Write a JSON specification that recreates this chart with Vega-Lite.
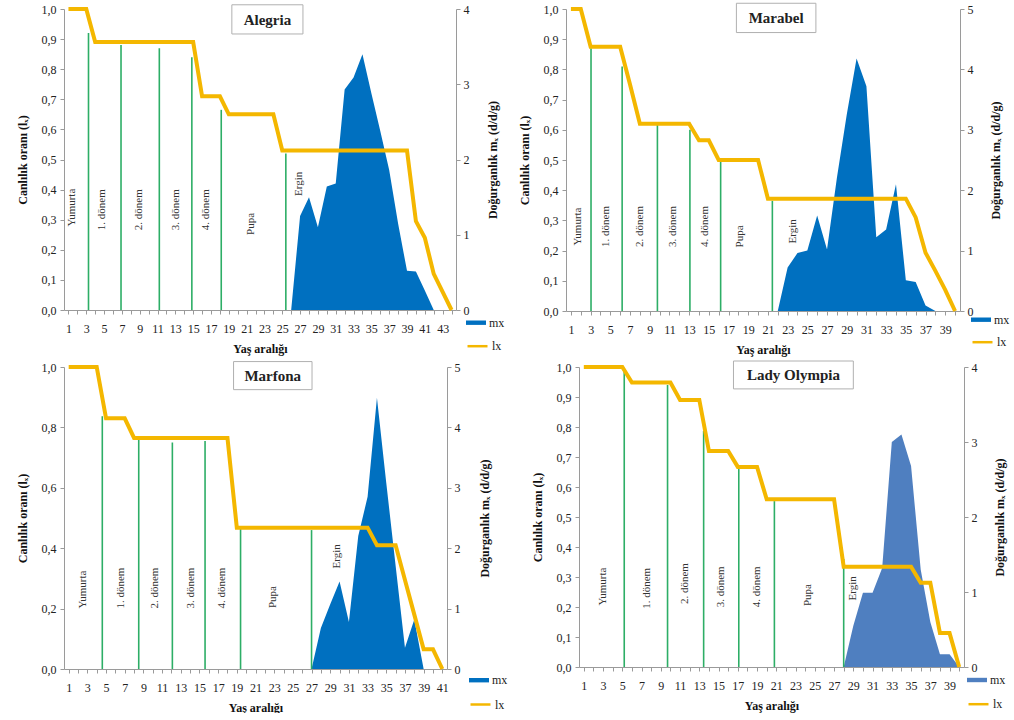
{
  "$schema": "https://vega.github.io/schema/vega-lite/v6.json",
  "padding": {"left": 16, "top": 1, "right": 0, "bottom": 0},
  "config": {
    "font": "Liberation Serif",
    "view": {"stroke": null},
    "axis": {"labelFont": "Liberation Serif", "titleFont": "Liberation Serif", "labelFontSize": 12, "titleFontSize": 12, "titleFontWeight": "bold", "grid": false, "domainColor": "#9a9a9a", "tickColor": "#9a9a9a", "labelColor": "#222222", "titleColor": "#111111", "labelOverlap": false},
    "legend": {"labelFont": "Liberation Serif", "labelFontSize": 12, "labelColor": "#222222"}
  },
  "datasets": {
    "titles": [{"panel": "Alegria"}, {"panel": "Marabel"}, {"panel": "Marfona"}, {"panel": "Lady Olympia"}],
    "alegria_lx": [
      {"x":1,"lx":1},{"x":2,"lx":1},{"x":3,"lx":1},{"x":4,"lx":0.89},{"x":5,"lx":0.89},{"x":6,"lx":0.89},{"x":7,"lx":0.89},{"x":8,"lx":0.89},{"x":9,"lx":0.89},{"x":10,"lx":0.89},{"x":11,"lx":0.89},{"x":12,"lx":0.89},{"x":13,"lx":0.89},{"x":14,"lx":0.89},{"x":15,"lx":0.89},{"x":16,"lx":0.71},{"x":17,"lx":0.71},{"x":18,"lx":0.71},{"x":19,"lx":0.65},{"x":20,"lx":0.65},{"x":21,"lx":0.65},{"x":22,"lx":0.65},{"x":23,"lx":0.65},{"x":24,"lx":0.65},{"x":25,"lx":0.53},{"x":26,"lx":0.53},{"x":27,"lx":0.53},{"x":28,"lx":0.53},{"x":29,"lx":0.53},{"x":30,"lx":0.53},{"x":31,"lx":0.53},{"x":32,"lx":0.53},{"x":33,"lx":0.53},{"x":34,"lx":0.53},{"x":35,"lx":0.53},{"x":36,"lx":0.53},{"x":37,"lx":0.53},{"x":38,"lx":0.53},{"x":39,"lx":0.53},{"x":40,"lx":0.295},{"x":41,"lx":0.24},{"x":42,"lx":0.12},{"x":43,"lx":0.06},{"x":44,"lx":0}
    ],
    "alegria_mx": [
      {"x":26,"mx":0},{"x":27,"mx":1.25},{"x":28,"mx":1.5},{"x":29,"mx":1.1},{"x":30,"mx":1.64},{"x":31,"mx":1.68},{"x":32,"mx":2.93},{"x":33,"mx":3.09},{"x":34,"mx":3.4},{"x":35,"mx":2.88},{"x":36,"mx":2.38},{"x":37,"mx":1.86},{"x":38,"mx":1.15},{"x":39,"mx":0.52},{"x":40,"mx":0.51},{"x":41,"mx":0.26},{"x":42,"mx":0}
    ],
    "alegria_rules": [
      {"x":3.25,"top":0.92},{"x":6.9,"top":0.88},{"x":11.2,"top":0.87},{"x":14.85,"top":0.84},{"x":18.15,"top":0.665},{"x":25.4,"top":0.52}
    ],
    "alegria_stages": [
      {"label":"Yumurta","x":1.45,"y":0.34},{"label":"1. dönem","x":4.82,"y":0.333},{"label":"2. dönem","x":8.93,"y":0.333},{"label":"3. dönem","x":13.05,"y":0.333},{"label":"4. dönem","x":16.4,"y":0.333},{"label":"Pupa","x":21.5,"y":0.286},{"label":"Ergin","x":26.9,"y":0.419}
    ],
    "marabel_lx": [
      {"x":1,"lx":1},{"x":2,"lx":1},{"x":3,"lx":0.875},{"x":4,"lx":0.875},{"x":5,"lx":0.875},{"x":6,"lx":0.875},{"x":7,"lx":0.75},{"x":8,"lx":0.62},{"x":9,"lx":0.62},{"x":10,"lx":0.62},{"x":11,"lx":0.62},{"x":12,"lx":0.62},{"x":13,"lx":0.62},{"x":14,"lx":0.565},{"x":15,"lx":0.565},{"x":16,"lx":0.5},{"x":17,"lx":0.5},{"x":18,"lx":0.5},{"x":19,"lx":0.5},{"x":20,"lx":0.5},{"x":21,"lx":0.372},{"x":22,"lx":0.372},{"x":23,"lx":0.372},{"x":24,"lx":0.372},{"x":25,"lx":0.372},{"x":26,"lx":0.372},{"x":27,"lx":0.372},{"x":28,"lx":0.372},{"x":29,"lx":0.372},{"x":30,"lx":0.372},{"x":31,"lx":0.372},{"x":32,"lx":0.372},{"x":33,"lx":0.372},{"x":34,"lx":0.372},{"x":35,"lx":0.372},{"x":36,"lx":0.31},{"x":37,"lx":0.193},{"x":38,"lx":0.133},{"x":39,"lx":0.07},{"x":40,"lx":0}
    ],
    "marabel_mx": [
      {"x":22,"mx":0},{"x":23,"mx":0.72},{"x":24,"mx":0.96},{"x":25,"mx":1.0},{"x":26,"mx":1.58},{"x":27,"mx":1.02},{"x":28,"mx":2.2},{"x":29,"mx":3.25},{"x":30,"mx":4.18},{"x":31,"mx":3.72},{"x":32,"mx":1.22},{"x":33,"mx":1.35},{"x":34,"mx":2.1},{"x":35,"mx":0.51},{"x":36,"mx":0.48},{"x":37,"mx":0.09},{"x":38,"mx":0}
    ],
    "marabel_rules": [
      {"x":3.04,"top":0.87},{"x":6.2,"top":0.81},{"x":9.78,"top":0.62},{"x":13.08,"top":0.6},{"x":16.2,"top":0.5},{"x":21.45,"top":0.365}
    ],
    "marabel_stages": [
      {"label":"Yumurta","x":1.68,"y":0.28},{"label":"1. dönem","x":4.57,"y":0.28},{"label":"2. dönem","x":7.98,"y":0.28},{"label":"3. dönem","x":11.4,"y":0.28},{"label":"4. dönem","x":14.6,"y":0.28},{"label":"Pupa","x":18.2,"y":0.247},{"label":"Ergin","x":23.55,"y":0.264}
    ],
    "marfona_lx": [
      {"x":1,"lx":1},{"x":2,"lx":1},{"x":3,"lx":1},{"x":4,"lx":1},{"x":5,"lx":0.83},{"x":6,"lx":0.83},{"x":7,"lx":0.83},{"x":8,"lx":0.765},{"x":9,"lx":0.765},{"x":10,"lx":0.765},{"x":11,"lx":0.765},{"x":12,"lx":0.765},{"x":13,"lx":0.765},{"x":14,"lx":0.765},{"x":15,"lx":0.765},{"x":16,"lx":0.765},{"x":17,"lx":0.765},{"x":18,"lx":0.765},{"x":19,"lx":0.468},{"x":20,"lx":0.468},{"x":21,"lx":0.468},{"x":22,"lx":0.468},{"x":23,"lx":0.468},{"x":24,"lx":0.468},{"x":25,"lx":0.468},{"x":26,"lx":0.468},{"x":27,"lx":0.468},{"x":28,"lx":0.468},{"x":29,"lx":0.468},{"x":30,"lx":0.468},{"x":31,"lx":0.468},{"x":32,"lx":0.468},{"x":33,"lx":0.468},{"x":34,"lx":0.41},{"x":35,"lx":0.41},{"x":36,"lx":0.41},{"x":37,"lx":0.295},{"x":38,"lx":0.18},{"x":39,"lx":0.065},{"x":40,"lx":0.065},{"x":41,"lx":0}
    ],
    "marfona_mx": [
      {"x":27,"mx":0},{"x":28,"mx":0.68},{"x":29,"mx":1.07},{"x":30,"mx":1.45},{"x":31,"mx":0.78},{"x":32,"mx":2.2},{"x":33,"mx":2.85},{"x":34,"mx":4.49},{"x":35,"mx":3.08},{"x":36,"mx":1.71},{"x":37,"mx":0.35},{"x":38,"mx":0.82},{"x":39,"mx":0}
    ],
    "marfona_rules": [
      {"x":4.6,"top":0.837},{"x":8.5,"top":0.76},{"x":12.1,"top":0.75},{"x":15.6,"top":0.755},{"x":19.4,"top":0.467},{"x":27.0,"top":0.46}
    ],
    "marfona_stages": [
      {"label":"Yumurta","x":2.5,"y":0.263},{"label":"1. dönem","x":6.63,"y":0.268},{"label":"2. dönem","x":10.2,"y":0.268},{"label":"3. dönem","x":14.1,"y":0.268},{"label":"4. dönem","x":17.4,"y":0.268},{"label":"Pupa","x":22.85,"y":0.238},{"label":"Ergin","x":29.7,"y":0.373}
    ],
    "olympia_lx": [
      {"x":1,"lx":1},{"x":2,"lx":1},{"x":3,"lx":1},{"x":4,"lx":1},{"x":5,"lx":1},{"x":6,"lx":0.948},{"x":7,"lx":0.948},{"x":8,"lx":0.948},{"x":9,"lx":0.948},{"x":10,"lx":0.948},{"x":11,"lx":0.89},{"x":12,"lx":0.89},{"x":13,"lx":0.89},{"x":14,"lx":0.72},{"x":15,"lx":0.72},{"x":16,"lx":0.72},{"x":17,"lx":0.667},{"x":18,"lx":0.667},{"x":19,"lx":0.667},{"x":20,"lx":0.559},{"x":21,"lx":0.559},{"x":22,"lx":0.559},{"x":23,"lx":0.559},{"x":24,"lx":0.559},{"x":25,"lx":0.559},{"x":26,"lx":0.559},{"x":27,"lx":0.559},{"x":28,"lx":0.334},{"x":29,"lx":0.334},{"x":30,"lx":0.334},{"x":31,"lx":0.334},{"x":32,"lx":0.334},{"x":33,"lx":0.334},{"x":34,"lx":0.334},{"x":35,"lx":0.334},{"x":36,"lx":0.281},{"x":37,"lx":0.281},{"x":38,"lx":0.113},{"x":39,"lx":0.113},{"x":40,"lx":0}
    ],
    "olympia_mx": [
      {"x":28,"mx":0},{"x":29,"mx":0.55},{"x":30,"mx":0.99},{"x":31,"mx":0.99},{"x":32,"mx":1.32},{"x":33,"mx":3.0},{"x":34,"mx":3.1},{"x":35,"mx":2.68},{"x":36,"mx":1.3},{"x":37,"mx":0.6},{"x":38,"mx":0.17},{"x":39,"mx":0.17},{"x":40,"mx":0}
    ],
    "olympia_rules": [
      {"x":5.2,"top":0.99},{"x":9.7,"top":0.94},{"x":13.45,"top":0.787},{"x":17.1,"top":0.66},{"x":20.8,"top":0.553},{"x":28.0,"top":0.36}
    ],
    "olympia_stages": [
      {"label":"Yumurta","x":2.99,"y":0.268},{"label":"1. dönem","x":7.53,"y":0.262},{"label":"2. dönem","x":11.5,"y":0.278},{"label":"3. dönem","x":15.3,"y":0.267},{"label":"4. dönem","x":19.0,"y":0.267},{"label":"Pupa","x":24.3,"y":0.24},{"label":"Ergin","x":29.0,"y":0.262}
    ]
  },
  "resolve": {"scale": {"x": "independent", "y": "independent", "fill": "independent", "stroke": "independent"}, "legend": {"fill": "independent", "stroke": "independent"}},
  "spacing": 4,
  "vconcat": [
    {
      "hconcat": [
        {
          "width": 392, "height": 301,
          "resolve": {"scale": {"y": "independent"}},
          "layer": [
            {
              "data": {"name": "alegria_mx"},
              "mark": {"type": "area"},
              "encoding": {
                "x": {"field": "x", "type": "quantitative", "scale": {"domain": [0.5, 44.5], "nice": false},
                      "axis": {"title": "Yaş aralığı", "values": [1,2,3,4,5,6,7,8,9,10,11,12,13,14,15,16,17,18,19,20,21,22,23,24,25,26,27,28,29,30,31,32,33,34,35,36,37,38,39,40,41,42,43,44], "tickCount": 100, "format": "d", "labelExpr": "datum.value % 2 === 1 ? datum.label : ''", "tickSize": 4, "labelPadding": 9, "titlePadding": 9, "labelOverlap": false, "labelFlush": false}},
                "y": {"field": "mx", "type": "quantitative", "scale": {"domain": [0, 4], "nice": false},
                      "axis": {"orient": "right", "title": "Doğurganlık mₓ (d/d/g)", "values": [0,1,2,3,4], "tickSize": 4, "labelPadding": 3, "titlePadding": 18, "titleAngle": 270, "titleBaseline": "top"}},
                "fill": {"datum": "mx", "type": "nominal", "scale": {"domain": ["mx"], "range": ["#0070C0"]},
                         "legend": {"orient": "none", "legendX": 402, "legendY": 303.7, "title": null, "symbolType": "M-1,-0.22H1V0.22H-1Z", "symbolSize": 400, "symbolStrokeWidth": 0, "symbolOpacity": 1, "padding": 0, "labelOffset": 3}}
              }
            },
            {
              "layer": [
                {
                  "data": {"name": "alegria_rules"},
                  "mark": {"type": "rule", "color": "#2DAE66", "strokeWidth": 1.6},
                  "encoding": {
                    "x": {"field": "x", "type": "quantitative", "scale": {"domain": [0.5, 44.5], "nice": false}},
                    "y": {"field": "top", "type": "quantitative", "scale": {"domain": [0, 1], "nice": false}},
                    "y2": {"datum": 0}
                  }
                },
                {
                  "data": {"name": "alegria_lx"},
                  "mark": {"type": "line", "strokeWidth": 4},
                  "encoding": {
                    "x": {"field": "x", "type": "quantitative", "scale": {"domain": [0.5, 44.5], "nice": false}},
                    "y": {"field": "lx", "type": "quantitative", "scale": {"domain": [0, 1], "nice": false},
                          "axis": {"orient": "left", "title": "Canlılık oranı (lₓ)", "values": [0,0.1,0.2,0.3,0.4,0.5,0.6,0.7,0.8,0.9,1], "tickCount": 100, "labelExpr": "replace(format(datum.value, '.1f'), '.', ',')", "tickSize": 4, "labelPadding": 4, "titlePadding": 12, "labelOverlap": false}},
                    "stroke": {"datum": "lx", "type": "nominal", "scale": {"domain": ["lx"], "range": ["#F4B700"]},
                               "legend": {"orient": "none", "legendX": 402, "legendY": 325.7, "title": null, "symbolType": "stroke", "symbolSize": 400, "symbolStrokeWidth": 2.5, "padding": 0, "labelOffset": 3}}
                  }
                },
                {
                  "data": {"name": "alegria_stages"},
                  "mark": {"type": "text", "angle": 270, "align": "center", "baseline": "middle", "fontSize": 11, "color": "#333333"},
                  "encoding": {
                    "x": {"field": "x", "type": "quantitative", "scale": {"domain": [0.5, 44.5], "nice": false}},
                    "y": {"field": "y", "type": "quantitative", "scale": {"domain": [0, 1], "nice": false}},
                    "text": {"field": "label"}
                  }
                },
                {
                  "data": {"name": "titles"},
                  "transform": [{"filter": "datum.panel === 'Alegria'"}],
                  "mark": {"type": "rect", "fill": "white", "stroke": "#b0b0b0", "strokeWidth": 1},
                  "encoding": {"x": {"datum": 19.34}, "x2": {"datum": 27.32}, "y": {"datum": 1.014}, "y2": {"datum": 0.917}}
                },
                {
                  "data": {"name": "titles"},
                  "transform": [{"filter": "datum.panel === 'Alegria'"}],
                  "mark": {"type": "text", "fontSize": 15, "fontWeight": "bold", "align": "center", "baseline": "middle", "color": "#222222"},
                  "encoding": {"x": {"datum": 23.33}, "y": {"datum": 0.964}, "text": {"field": "panel"}}
                }
              ]
            }
          ]
        },
        {
          "width": 394, "height": 302,
          "resolve": {"scale": {"y": "independent"}},
          "layer": [
            {
              "data": {"name": "marabel_mx"},
              "mark": {"type": "area"},
              "encoding": {
                "x": {"field": "x", "type": "quantitative", "scale": {"domain": [0.5, 40.5], "nice": false},
                      "axis": {"title": "Yaş aralığı", "values": [1,2,3,4,5,6,7,8,9,10,11,12,13,14,15,16,17,18,19,20,21,22,23,24,25,26,27,28,29,30,31,32,33,34,35,36,37,38,39,40], "tickCount": 100, "format": "d", "labelExpr": "datum.value % 2 === 1 ? datum.label : ''", "tickSize": 4, "labelPadding": 9, "titlePadding": 9, "labelOverlap": false, "labelFlush": false}},
                "y": {"field": "mx", "type": "quantitative", "scale": {"domain": [0, 5], "nice": false},
                      "axis": {"orient": "right", "title": "Doğurganlık mₓ (d/d/g)", "values": [0,1,2,3,4,5], "tickSize": 4, "labelPadding": 3, "titlePadding": 17, "titleAngle": 270, "titleBaseline": "top"}},
                "fill": {"datum": "mx", "type": "nominal", "scale": {"domain": ["mx"], "range": ["#0070C0"]},
                         "legend": {"orient": "none", "legendX": 405, "legendY": 300.7, "title": null, "symbolType": "M-1,-0.22H1V0.22H-1Z", "symbolSize": 400, "symbolStrokeWidth": 0, "symbolOpacity": 1, "padding": 0, "labelOffset": 3}}
              }
            },
            {
              "layer": [
                {
                  "data": {"name": "marabel_rules"},
                  "mark": {"type": "rule", "color": "#2DAE66", "strokeWidth": 1.6},
                  "encoding": {
                    "x": {"field": "x", "type": "quantitative", "scale": {"domain": [0.5, 40.5], "nice": false}},
                    "y": {"field": "top", "type": "quantitative", "scale": {"domain": [0, 1], "nice": false}},
                    "y2": {"datum": 0}
                  }
                },
                {
                  "data": {"name": "marabel_lx"},
                  "mark": {"type": "line", "strokeWidth": 4},
                  "encoding": {
                    "x": {"field": "x", "type": "quantitative", "scale": {"domain": [0.5, 40.5], "nice": false}},
                    "y": {"field": "lx", "type": "quantitative", "scale": {"domain": [0, 1], "nice": false},
                          "axis": {"orient": "left", "title": "Canlılık oranı (lₓ)", "values": [0,0.1,0.2,0.3,0.4,0.5,0.6,0.7,0.8,0.9,1], "tickCount": 100, "labelExpr": "replace(format(datum.value, '.1f'), '.', ',')", "tickSize": 4, "labelPadding": 4, "titlePadding": 12, "labelOverlap": false}},
                    "stroke": {"datum": "lx", "type": "nominal", "scale": {"domain": ["lx"], "range": ["#F4B700"]},
                               "legend": {"orient": "none", "legendX": 405, "legendY": 321.7, "title": null, "symbolType": "stroke", "symbolSize": 400, "symbolStrokeWidth": 2.5, "padding": 0, "labelOffset": 3}}
                  }
                },
                {
                  "data": {"name": "marabel_stages"},
                  "mark": {"type": "text", "angle": 270, "align": "center", "baseline": "middle", "fontSize": 11, "color": "#333333"},
                  "encoding": {
                    "x": {"field": "x", "type": "quantitative", "scale": {"domain": [0.5, 40.5], "nice": false}},
                    "y": {"field": "y", "type": "quantitative", "scale": {"domain": [0, 1], "nice": false}},
                    "text": {"field": "label"}
                  }
                },
                {
                  "data": {"name": "titles"},
                  "transform": [{"filter": "datum.panel === 'Marabel'"}],
                  "mark": {"type": "rect", "fill": "white", "stroke": "#b0b0b0", "strokeWidth": 1},
                  "encoding": {"x": {"datum": 17.8}, "x2": {"datum": 25.87}, "y": {"datum": 1.019}, "y2": {"datum": 0.922}}
                },
                {
                  "data": {"name": "titles"},
                  "transform": [{"filter": "datum.panel === 'Marabel'"}],
                  "mark": {"type": "text", "fontSize": 15, "fontWeight": "bold", "align": "center", "baseline": "middle", "color": "#222222"},
                  "encoding": {"x": {"datum": 21.84}, "y": {"datum": 0.969}, "text": {"field": "panel"}}
                }
              ]
            }
          ]
        }
      ],
      "spacing": 110,
      "bounds": "flush",
      "resolve": {"scale": {"x": "independent", "y": "independent", "fill": "independent", "stroke": "independent"}, "legend": {"fill": "independent", "stroke": "independent"}}
    },
    {
      "hconcat": [
        {
          "width": 383, "height": 302,
          "resolve": {"scale": {"y": "independent"}},
          "layer": [
            {
              "data": {"name": "marfona_mx"},
              "mark": {"type": "area"},
              "encoding": {
                "x": {"field": "x", "type": "quantitative", "scale": {"domain": [0.5, 41.5], "nice": false},
                      "axis": {"title": "Yaş aralığı", "values": [1,2,3,4,5,6,7,8,9,10,11,12,13,14,15,16,17,18,19,20,21,22,23,24,25,26,27,28,29,30,31,32,33,34,35,36,37,38,39,40,41], "tickCount": 100, "format": "d", "labelExpr": "datum.value % 2 === 1 ? datum.label : ''", "tickSize": 4, "labelPadding": 9, "titlePadding": 9, "labelOverlap": false, "labelFlush": false}},
                "y": {"field": "mx", "type": "quantitative", "scale": {"domain": [0, 5], "nice": false},
                      "axis": {"orient": "right", "title": "Doğurganlık mₓ (d/d/g)", "values": [0,1,2,3,4,5], "tickSize": 4, "labelPadding": 3, "titlePadding": 19, "titleAngle": 270, "titleBaseline": "top"}},
                "fill": {"datum": "mx", "type": "nominal", "scale": {"domain": ["mx"], "range": ["#0070C0"]},
                         "legend": {"orient": "none", "legendX": 405, "legendY": 303.2, "title": null, "symbolType": "M-1,-0.22H1V0.22H-1Z", "symbolSize": 400, "symbolStrokeWidth": 0, "symbolOpacity": 1, "padding": 0, "labelOffset": 3}}
              }
            },
            {
              "layer": [
                {
                  "data": {"name": "marfona_rules"},
                  "mark": {"type": "rule", "color": "#2DAE66", "strokeWidth": 1.6},
                  "encoding": {
                    "x": {"field": "x", "type": "quantitative", "scale": {"domain": [0.5, 41.5], "nice": false}},
                    "y": {"field": "top", "type": "quantitative", "scale": {"domain": [0, 1], "nice": false}},
                    "y2": {"datum": 0}
                  }
                },
                {
                  "data": {"name": "marfona_lx"},
                  "mark": {"type": "line", "strokeWidth": 4},
                  "encoding": {
                    "x": {"field": "x", "type": "quantitative", "scale": {"domain": [0.5, 41.5], "nice": false}},
                    "y": {"field": "lx", "type": "quantitative", "scale": {"domain": [0, 1], "nice": false},
                          "axis": {"orient": "left", "title": "Canlılık oranı (lₓ)", "values": [0,0.2,0.4,0.6,0.8,1], "tickCount": 100, "labelExpr": "replace(format(datum.value, '.1f'), '.', ',')", "tickSize": 4, "labelPadding": 4, "titlePadding": 12, "labelOverlap": false}},
                    "stroke": {"datum": "lx", "type": "nominal", "scale": {"domain": ["lx"], "range": ["#F4B700"]},
                               "legend": {"orient": "none", "legendX": 405, "legendY": 326, "title": null, "symbolType": "stroke", "symbolSize": 400, "symbolStrokeWidth": 2.5, "padding": 0, "labelOffset": 3}}
                  }
                },
                {
                  "data": {"name": "marfona_stages"},
                  "mark": {"type": "text", "angle": 270, "align": "center", "baseline": "middle", "fontSize": 11, "color": "#333333"},
                  "encoding": {
                    "x": {"field": "x", "type": "quantitative", "scale": {"domain": [0.5, 41.5], "nice": false}},
                    "y": {"field": "y", "type": "quantitative", "scale": {"domain": [0, 1], "nice": false}},
                    "text": {"field": "label"}
                  }
                },
                {
                  "data": {"name": "titles"},
                  "transform": [{"filter": "datum.panel === 'Marfona'"}],
                  "mark": {"type": "rect", "fill": "white", "stroke": "#b0b0b0", "strokeWidth": 1},
                  "encoding": {"x": {"datum": 18.65}, "x2": {"datum": 27.05}, "y": {"datum": 1.018}, "y2": {"datum": 0.925}}
                },
                {
                  "data": {"name": "titles"},
                  "transform": [{"filter": "datum.panel === 'Marfona'"}],
                  "mark": {"type": "text", "fontSize": 15, "fontWeight": "bold", "align": "center", "baseline": "middle", "color": "#222222"},
                  "encoding": {"x": {"datum": 22.85}, "y": {"datum": 0.971}, "text": {"field": "panel"}}
                }
              ]
            }
          ]
        },
        {
          "width": 385, "height": 300,
          "resolve": {"scale": {"y": "independent"}},
          "layer": [
            {
              "data": {"name": "olympia_mx"},
              "mark": {"type": "area"},
              "encoding": {
                "x": {"field": "x", "type": "quantitative", "scale": {"domain": [0.5, 40.5], "nice": false},
                      "axis": {"title": "Yaş aralığı", "values": [1,2,3,4,5,6,7,8,9,10,11,12,13,14,15,16,17,18,19,20,21,22,23,24,25,26,27,28,29,30,31,32,33,34,35,36,37,38,39,40], "tickCount": 100, "format": "d", "labelExpr": "datum.value % 2 === 1 ? datum.label : ''", "tickSize": 4, "labelPadding": 9, "titlePadding": 9, "labelOverlap": false, "labelFlush": false}},
                "y": {"field": "mx", "type": "quantitative", "scale": {"domain": [0, 4], "nice": false},
                      "axis": {"orient": "right", "title": "Doğurganlık mₓ (d/d/g)", "values": [0,1,2,3,4], "tickSize": 4, "labelPadding": 3, "titlePadding": 17, "titleAngle": 270, "titleBaseline": "top"}},
                "fill": {"datum": "mx", "type": "nominal", "scale": {"domain": ["mx"], "range": ["#4F7FC0"]},
                         "legend": {"orient": "none", "legendX": 388, "legendY": 303, "title": null, "symbolType": "M-1,-0.22H1V0.22H-1Z", "symbolSize": 400, "symbolStrokeWidth": 0, "symbolOpacity": 1, "padding": 0, "labelOffset": 3}}
              }
            },
            {
              "layer": [
                {
                  "data": {"name": "olympia_rules"},
                  "mark": {"type": "rule", "color": "#2DAE66", "strokeWidth": 1.6},
                  "encoding": {
                    "x": {"field": "x", "type": "quantitative", "scale": {"domain": [0.5, 40.5], "nice": false}},
                    "y": {"field": "top", "type": "quantitative", "scale": {"domain": [0, 1], "nice": false}},
                    "y2": {"datum": 0}
                  }
                },
                {
                  "data": {"name": "olympia_lx"},
                  "mark": {"type": "line", "strokeWidth": 4},
                  "encoding": {
                    "x": {"field": "x", "type": "quantitative", "scale": {"domain": [0.5, 40.5], "nice": false}},
                    "y": {"field": "lx", "type": "quantitative", "scale": {"domain": [0, 1], "nice": false},
                          "axis": {"orient": "left", "title": "Canlılık oranı (lₓ)", "values": [0,0.1,0.2,0.3,0.4,0.5,0.6,0.7,0.8,0.9,1], "tickCount": 100, "labelExpr": "replace(format(datum.value, '.1f'), '.', ',')", "tickSize": 4, "labelPadding": 4, "titlePadding": 12, "labelOverlap": false}},
                    "stroke": {"datum": "lx", "type": "nominal", "scale": {"domain": ["lx"], "range": ["#F4B700"]},
                               "legend": {"orient": "none", "legendX": 388, "legendY": 325.7, "title": null, "symbolType": "stroke", "symbolSize": 400, "symbolStrokeWidth": 2.5, "padding": 0, "labelOffset": 3}}
                  }
                },
                {
                  "data": {"name": "olympia_stages"},
                  "mark": {"type": "text", "angle": 270, "align": "center", "baseline": "middle", "fontSize": 11, "color": "#333333"},
                  "encoding": {
                    "x": {"field": "x", "type": "quantitative", "scale": {"domain": [0.5, 40.5], "nice": false}},
                    "y": {"field": "y", "type": "quantitative", "scale": {"domain": [0, 1], "nice": false}},
                    "text": {"field": "label"}
                  }
                },
                {
                  "data": {"name": "titles"},
                  "transform": [{"filter": "datum.panel === 'Lady Olympia'"}],
                  "mark": {"type": "rect", "fill": "white", "stroke": "#b0b0b0", "strokeWidth": 1},
                  "encoding": {"x": {"datum": 16.55}, "x2": {"datum": 29.0}, "y": {"datum": 1.02}, "y2": {"datum": 0.927}}
                },
                {
                  "data": {"name": "titles"},
                  "transform": [{"filter": "datum.panel === 'Lady Olympia'"}],
                  "mark": {"type": "text", "fontSize": 15, "fontWeight": "bold", "align": "center", "baseline": "middle", "color": "#222222"},
                  "encoding": {"x": {"datum": 22.78}, "y": {"datum": 0.973}, "text": {"field": "panel"}}
                }
              ]
            }
          ]
        }
      ],
      "spacing": 132,
      "bounds": "flush",
      "resolve": {"scale": {"x": "independent", "y": "independent", "fill": "independent", "stroke": "independent"}, "legend": {"fill": "independent", "stroke": "independent"}}
    }
  ]
}
